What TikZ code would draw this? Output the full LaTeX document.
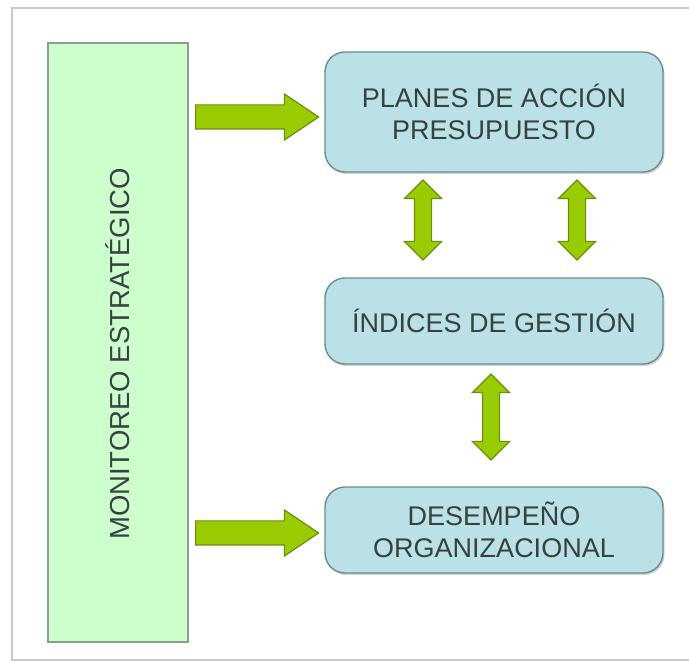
\documentclass[tikz,border=0pt]{standalone}
\usepackage{fontspec}
\setmainfont{Liberation Sans}
\usetikzlibrary{shadows,shapes.arrows}
\definecolor{boxfill}{HTML}{B9E1E6}
\definecolor{boxdraw}{HTML}{6E8C90}
\definecolor{greenfill}{HTML}{CCFFCC}
\definecolor{greendraw}{HTML}{8A9E8A}
\definecolor{arrfill}{HTML}{99CC00}
\definecolor{arrdraw}{HTML}{6A8F10}
\definecolor{txt}{HTML}{374042}
\definecolor{frame}{HTML}{C8C8C8}
\tikzset{
  bluebox/.style={draw=boxdraw, line width=1.4pt, fill=boxfill, rounded corners=20pt,
    minimum width=338pt, minimum height=#1, inner sep=0pt, align=center,
    font=\fontsize{27pt}{32pt}\selectfont, text=txt,
    drop shadow={shadow xshift=1.5pt, shadow yshift=-2pt, fill=black!35, opacity=0.5}},
  greenbox/.style={draw=greendraw, line width=1.4pt, fill=greenfill,
    minimum width=140pt, minimum height=599pt, inner sep=0pt},
  rightarrow/.style={single arrow, fill=arrfill, draw=arrdraw, line width=1.2pt,
    minimum height=123pt, inner sep=11.5pt, anchor=tail,
    single arrow head extend=11pt, single arrow tip angle=68, single arrow head indent=0pt},
  updown/.style={double arrow, rotate=90, fill=arrfill, draw=arrdraw, line width=1.2pt,
    minimum height=#1, inner sep=8pt,
    double arrow head extend=10pt, double arrow tip angle=90}
}
\begin{document}
\begin{tikzpicture}[x=1pt,y=1pt]
\useasboundingbox (0,0) rectangle (689,662);
% outer frame
\draw[frame, line width=1.5pt] (689,654) -- (12,654) -- (12,2) -- (689,2);
% green bar
\node[greenbox] (mon) at (118,{662-342.5}) {};
\node[rotate=90, font=\fontsize{27.5pt}{30pt}\selectfont, text=txt] (montxt) at (118,{662-354}) {MONITOREO ESTRATÉGICO};
% blue boxes
\node[bluebox=120pt] (plan) at (494,{662-112}) {PLANES DE ACCIÓN\\PRESUPUESTO};
\node[bluebox=86pt] (ind) at (494,{662-321}) {ÍNDICES DE GESTIÓN};
\node[bluebox=86pt] (des) at (494,{662-530}) {DESEMPEÑO\\ORGANIZACIONAL};
% right arrows
\node[rightarrow] (r1) at (195,{662-117}) {};
\node[rightarrow] (r2) at (195,{662-533}) {};
% double arrows
\node[updown=80pt] (d1) at (423,{662-220}) {};
\node[updown=80pt] (d2) at (577,{662-220}) {};
\node[updown=86pt] (d3) at (491,{662-417}) {};
\end{tikzpicture}
\end{document}
